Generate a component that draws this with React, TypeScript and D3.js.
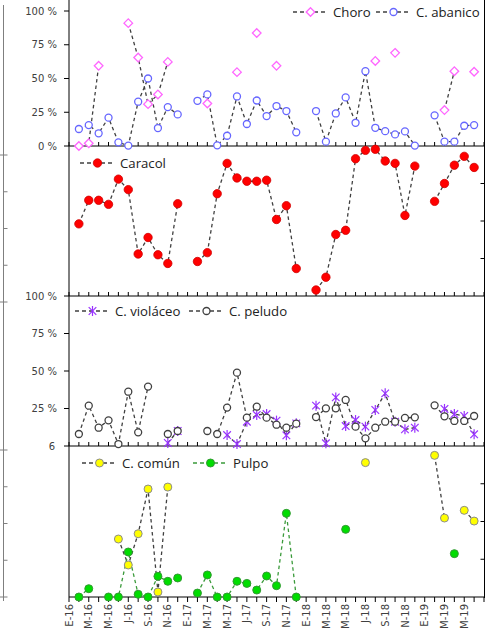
import React from 'react';
import * as d3 from 'd3';

const N = null;
// month index 0 = Jan 2016 ... 42 = Jul 2019 ; data from month 1 (Feb-16) to month 41 (Jun-19)
const monthLabels = ['E-16','M-16','M-16','J-16','S-16','N-16','E-17','M-17','M-17','J-17','S-17','N-17','E-18','M-18','M-18','J-18','S-18','N-18','E-19','M-19','M-19'];
const pctLabelsTop = ['0 %','25 %','50 %','75 %','100 %'];
const pctLabelsMid = ['6','25 %','50 %','75 %','100 %'];
const pctValues = [0,25,50,75,100];

const choro = [0,2,59.4,N,N,91,65.5,31,38.2,62.3, N,N,N,31.5,N,N,54.7,N,83.7,N, 59.4,N,N,N,N,N,N,N,N,N, 63,N,69,N,N,N,N,26.6,55.4,N,55];
const abanico = [12.6,15.5,9.4,21,2.7,0.3,32.8,50,13.3,28.8, 23.4,N,33.5,38.2,0.5,7.6,36.7,16.3,33.7,22.2, 29.6,25.9,10.1,N,25.9,3.2,24.1,36,17.2,55.4, 13.5,11,8.6,10.8,0.3,N,22.7,3.2,3.2,15,15.5];
const caracol = [51.9,36.2,36.2,38.9,22.1,29.1,72,61,72.5,78.3, 38.5,N,77,71.1,31.8,11.6,21.3,23.5,23.5,22.8, 49,39.8,81.7,N,96,87.5,59,56.2,8.5,2.9, 2.2,10,11.6,46.3,13.4,N,36.9,25,12.8,6.9,14.3];
const violaceo = [N,N,N,N,N,N,N,N,N,2, 10,N,N,N,N,7.3,1.3,16.2,20.7,21.3, 16.9,7.1,15.1,N,26.9,1.8,32.4,13.3,17.3,12.9, 24,35.1,16.2,11.1,12.2,N,N,24.7,21.3,20,7.8];
const peludo = [8,26.9,12.2,17.1,1.3,36.2,9.1,39.6,N,8, 10,N,N,10,8,25.6,48.9,18.9,26.2,18.9, 14.2,12.2,14.9,N,19.3,25.1,25.1,30.7,12.9,5.1, 12.2,16.2,16.2,18.7,19.1,N,27.1,19.8,16.7,16.7,20];
const comun = [N,N,N,N,38.4,21.2,41.9,71.5,3.3,72.8, N,N,N,N,N,N,N,N,N,N, N,N,N,N,N,N,N,N,N,89, N,N,N,N,N,N,93.8,52.3,N,57.4,50.3];
const pulpo = [0,5.5,N,0,0,29.8,1.8,0,13.7,10.4, 12.6,N,2.6,14.6,0,0,10.4,9,4.6,13.9, 7.5,55.4,0,N,N,N,N,44.8,N,N, N,N,N,N,N,N,N,N,28.7,N,N];

const x = d3.scaleLinear().domain([0, 42]).range([69, 484]);
const y1 = d3.scaleLinear().domain([0, 100]).range([146, 11]);
const y2 = d3.scaleLinear().domain([0, 100]).range([146, 296]);
const y3 = d3.scaleLinear().domain([0, 100]).range([446, 296]);
const y4 = d3.scaleLinear().domain([0, 100]).range([597, 446]);
const yAux2 = d3.scaleLinear().domain([0, 100]).range([155, 302]);
const yAux4 = d3.scaleLinear().domain([0, 100]).range([450, 597]);

const DARK = '#404040';
const LINE_DASH = '3.5,3';
const months = d3.range(0, 43);

type MType = 'diamond' | 'ocircle' | 'red' | 'star' | 'bcircle' | 'yellow' | 'green';

function Marker({ type, cx, cy }: { type: MType; cx: number; cy: number }) {
  switch (type) {
    case 'diamond': {
      const r = 4.3;
      return <path d={`M${cx},${cy - r}L${cx + r},${cy}L${cx},${cy + r}L${cx - r},${cy}Z`} fill="white" stroke="#FF66FF" strokeWidth={1.3} />;
    }
    case 'ocircle':
      return <circle cx={cx} cy={cy} r={3.5} fill="white" stroke="#6666FF" strokeWidth={1.3} />;
    case 'red':
      return <circle cx={cx} cy={cy} r={4.2} fill="#FF0000" stroke="#D00000" strokeWidth={0.8} />;
    case 'star': {
      const a = 3.8, b = 5;
      return (
        <g stroke="#9933FF" strokeWidth={1.2}>
          <line x1={cx - a} y1={cy - a} x2={cx + a} y2={cy + a} />
          <line x1={cx - a} y1={cy + a} x2={cx + a} y2={cy - a} />
          <line x1={cx} y1={cy - b} x2={cx} y2={cy + b} />
        </g>
      );
    }
    case 'bcircle':
      return <circle cx={cx} cy={cy} r={3.5} fill="white" stroke="#404040" strokeWidth={1.3} />;
    case 'yellow':
      return <circle cx={cx} cy={cy} r={4} fill="#FFFF00" stroke="#8C8C8C" strokeWidth={1} />;
    case 'green':
      return <circle cx={cx} cy={cy} r={4} fill="#00DD00" stroke="#339933" strokeWidth={1} />;
  }
  return null;
}

type Series = { name: string; data: (number | null)[]; marker: MType; lineColor: string };

function SeriesPlot({ s, ys }: { s: Series; ys: d3.ScaleLinear<number, number> }) {
  const pts = s.data.map((v, i) => [i + 1, v] as [number, number | null]);
  const line = d3.line<[number, number | null]>()
    .defined(d => d[1] != null)
    .x(d => x(d[0]))
    .y(d => ys(d[1] as number));
  return (
    <g>
      <path d={line(pts) || ''} fill="none" stroke={s.lineColor} strokeWidth={1.3} strokeDasharray={LINE_DASH} />
    </g>
  );
}

function SeriesMarkers({ s, ys }: { s: Series; ys: d3.ScaleLinear<number, number> }) {
  return (
    <g>
      {s.data.map((v, i) => v == null ? null : <Marker key={i} type={s.marker} cx={x(i + 1)} cy={ys(v)} />)}
    </g>
  );
}

function LegendItem({ x0, y, s }: { x0: number; y: number; s: Series }) {
  return (
    <g>
      <line x1={x0} x2={x0 + 35} y1={y} y2={y} stroke={s.lineColor} strokeWidth={1.3} strokeDasharray="4,3" />
      <Marker type={s.marker} cx={x0 + 17.5} cy={y} />
      <text x={x0 + 40} y={y + 4.6} fontFamily="'Open Sans', sans-serif" fontSize={13.2} fill="#222">{s.name}</text>
    </g>
  );
}

const sChoro: Series = { name: 'Choro', data: choro, marker: 'diamond', lineColor: DARK };
const sAbanico: Series = { name: 'C. abanico', data: abanico, marker: 'ocircle', lineColor: DARK };
const sCaracol: Series = { name: 'Caracol', data: caracol, marker: 'red', lineColor: DARK };
const sViolaceo: Series = { name: 'C. violáceo', data: violaceo, marker: 'star', lineColor: DARK };
const sPeludo: Series = { name: 'C. peludo', data: peludo, marker: 'bcircle', lineColor: DARK };
const sComun: Series = { name: 'C. común', data: comun, marker: 'yellow', lineColor: DARK };
const sPulpo: Series = { name: 'Pulpo', data: pulpo, marker: 'green', lineColor: '#3A9A3A' };

const panels: { ys: d3.ScaleLinear<number, number>; series: Series[] }[] = [
  { ys: y1, series: [sChoro, sAbanico] },
  { ys: y2, series: [sCaracol] },
  { ys: y3, series: [sViolaceo, sPeludo] },
  { ys: y4, series: [sComun, sPulpo] },
];

const tickFont = "'DejaVu Sans', sans-serif";

export default function App() {
  const hLines = [y1(0), y2(100), y3(0)];
  return (
    <svg width={490} height={630} style={{ position: 'absolute', left: 0, top: 0, background: 'white' }}>
      <rect width={490} height={630} fill="white" />
      {/* far-left gray auxiliary axis */}
      <line x1={3.5} x2={3.5} y1={5} y2={601} stroke="#7F7F7F" strokeWidth={1} />
      {[yAux2, yAux4].map((s, k) => (
        <g key={k}>
          {pctValues.map(v => {
            const yy = s(v);
            const cross = v === 0 || v === 100;
            return <line key={v} x1={cross ? 0 : 3.5} x2={7.5} y1={yy} y2={yy} stroke="#7F7F7F" strokeWidth={1} />;
          })}
        </g>
      ))}

      {/* left main axis */}
      <line x1={69} x2={69} y1={0} y2={597} stroke="black" strokeWidth={1} />
      {/* right spine */}
      <line x1={484.5} x2={484.5} y1={0} y2={598} stroke="black" strokeWidth={1} />
      {[y2, y4].map((s, k) => (
        <g key={k}>
          {[25, 50, 75].map(v => <line key={v} x1={480.5} x2={484.5} y1={s(v)} y2={s(v)} stroke="black" strokeWidth={1} />)}
        </g>
      ))}

      {/* y tick labels panel 1 */}
      {pctValues.map((v, i) => (
        <g key={'a' + v}>
          <line x1={64} x2={69} y1={y1(v)} y2={y1(v)} stroke="black" />
          <text x={57} y={y1(v) + 3.6} textAnchor="end" fontFamily={tickFont} fontSize={10} fill={DARK}>{pctLabelsTop[i]}</text>
        </g>
      ))}
      {/* y tick labels panel 3 */}
      {pctValues.map((v, i) => (
        <g key={'b' + v}>
          <line x1={64} x2={69} y1={y3(v)} y2={y3(v)} stroke="black" />
          <text x={v === 0 ? 55 : 57} y={y3(v) + 3.6} textAnchor="end" fontFamily={tickFont} fontSize={10} fill={DARK}>{pctLabelsMid[i]}</text>
        </g>
      ))}

      {/* horizontal axes with inward ticks */}
      {hLines.map((yy, k) => (
        <g key={k}>
          <line x1={69} x2={484.5} y1={yy} y2={yy} stroke="black" strokeWidth={1} />
          {months.map(m => <line key={m} x1={x(m)} x2={x(m)} y1={yy - 4} y2={yy} stroke="black" strokeWidth={1} />)}
        </g>
      ))}
      {/* bottom axis */}
      <line x1={69} x2={484.5} y1={y4(0)} y2={y4(0)} stroke="black" strokeWidth={1} />
      {months.map(m => <line key={m} x1={x(m)} x2={x(m)} y1={y4(0)} y2={y4(0) + 5} stroke="black" strokeWidth={1} />)}
      {monthLabels.map((lab, i) => {
        const xm = x(i * 2) + 3.6;
        return (
          <text key={i} transform={`translate(${xm},604) rotate(-90)`} textAnchor="end" fontFamily={tickFont} fontSize={10} fill={DARK}>{lab}</text>
        );
      })}

      {/* series */}
      {panels.map((p, k) => (
        <g key={k}>
          {p.series.map(s => <SeriesPlot key={s.name} s={s} ys={p.ys} />)}
          {p.series.map(s => <SeriesMarkers key={s.name + 'm'} s={s} ys={p.ys} />)}
        </g>
      ))}

      {/* legends */}
      <LegendItem x0={293} y={12} s={sChoro} />
      <LegendItem x0={376} y={12} s={sAbanico} />
      <LegendItem x0={80} y={163} s={sCaracol} />
      <LegendItem x0={75} y={311} s={sViolaceo} />
      <LegendItem x0={189} y={311} s={sPeludo} />
      <LegendItem x0={82} y={463} s={sComun} />
      <LegendItem x0={193} y={463} s={sPulpo} />
    </svg>
  );
}
